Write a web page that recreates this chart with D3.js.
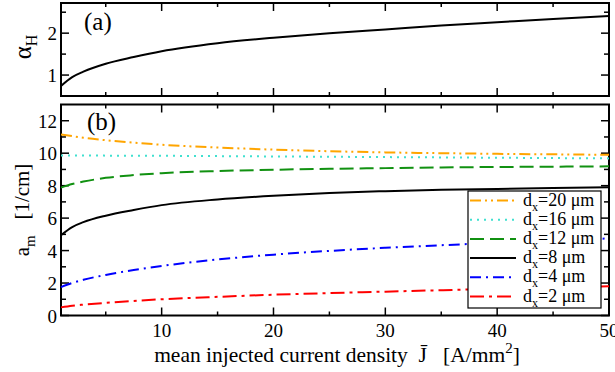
<!DOCTYPE html>
<html>
<head>
<meta charset="utf-8">
<script src="https://cdn.jsdelivr.net/npm/d3@7"></script>
<style>
  body { margin: 0; background: #fff; }
  text { font-family: "Liberation Serif", "DejaVu Serif", serif; fill: #000; white-space: pre; }
</style>
</head>
<body>
<div id="chart"></div>
<script>
// current density samples (A/mm^2)
const J = [1, 2, 3, 5, 7.5, 10, 15, 20, 25, 30, 35, 40, 45, 50];

// panel (a): alpha_H
const alphaH = [0.74, 0.95, 1.08, 1.27, 1.43, 1.57, 1.76, 1.89, 2.0, 2.09, 2.18, 2.26, 2.34, 2.41];

// panel (b): a_m for each d_x
const seriesNames = ["dx20", "dx16", "dx12", "dx8", "dx4", "dx2"];
const seriesLabels = ["20", "16", "12", "8", "4", "2"];
const am20 = [11.15, 11.05, 10.95, 10.8, 10.65, 10.52, 10.35, 10.22, 10.12, 10.05, 10.0, 9.96, 9.93, 9.9];
const am16 = [9.86, 9.86, 9.86, 9.85, 9.85, 9.84, 9.82, 9.8, 9.78, 9.76, 9.74, 9.72, 9.7, 9.68];
const am12 = [7.88, 8.1, 8.25, 8.48, 8.65, 8.77, 8.9, 8.98, 9.04, 9.08, 9.12, 9.15, 9.17, 9.19];
const am8  = [4.95, 5.45, 5.75, 6.15, 6.5, 6.8, 7.15, 7.38, 7.55, 7.66, 7.74, 7.8, 7.86, 7.9];
const am4  = [1.75, 2.0, 2.2, 2.5, 2.8, 3.05, 3.45, 3.75, 3.98, 4.17, 4.33, 4.48, 4.62, 4.75];
const am2  = [0.5, 0.6, 0.67, 0.78, 0.9, 1.0, 1.15, 1.28, 1.38, 1.47, 1.56, 1.64, 1.72, 1.8];
const amValues = [am20, am16, am12, am8, am4, am2];

const xTicks = [10, 20, 30, 40, 50];
const yTicksA = [1, 2];
const yTicksB = [0, 2, 4, 6, 8, 10, 12];

const width = 615, height = 372;
const left = 61, right = 609;

const svg = d3.select("#chart").append("svg")
    .attr("width", width)
    .attr("height", height);

const x = d3.scaleLinear().domain([1, 50]).range([left, right]);
const ya = d3.scaleLinear().domain([0.5, 2.72]).range([96, 3]);
const yb = d3.scaleLinear().domain([0, 13]).range([315.5, 104.5]);

const styles = {
    dx20: { color: "#ffa500", dash: "11,4,2,4,2,4" },
    dx16: { color: "#40e0d0", dash: "2,5" },
    dx12: { color: "#119111", dash: "14,6" },
    dx8:  { color: "#000000", dash: null },
    dx4:  { color: "#0000ff", dash: "11,5,2,5" },
    dx2:  { color: "#ff0000", dash: "14,5,3,5" }
};

// ticks on all four sides, pointing inward
function frame(y, majorY, minorY) {
    const [y1, y0] = y.range();
    const g = svg.append("g");
    const xMinor = d3.range(5, 50, 10);
    xTicks.forEach(t => {
        g.append("line").attr("x1", x(t)).attr("x2", x(t)).attr("y1", y0).attr("y2", y0 + 8);
        g.append("line").attr("x1", x(t)).attr("x2", x(t)).attr("y1", y1).attr("y2", y1 - 8);
    });
    xMinor.forEach(t => {
        g.append("line").attr("x1", x(t)).attr("x2", x(t)).attr("y1", y0).attr("y2", y0 + 4);
        g.append("line").attr("x1", x(t)).attr("x2", x(t)).attr("y1", y1).attr("y2", y1 - 4);
    });
    majorY.forEach(t => {
        g.append("line").attr("x1", left).attr("x2", left + 8).attr("y1", y(t)).attr("y2", y(t));
        g.append("line").attr("x1", right).attr("x2", right - 8).attr("y1", y(t)).attr("y2", y(t));
    });
    minorY.forEach(t => {
        g.append("line").attr("x1", left).attr("x2", left + 5).attr("y1", y(t)).attr("y2", y(t));
        g.append("line").attr("x1", right).attr("x2", right - 5).attr("y1", y(t)).attr("y2", y(t));
    });
    g.selectAll("line").attr("stroke", "#000").attr("stroke-width", 1.5);
    g.append("rect")
        .attr("x", left).attr("y", y0)
        .attr("width", right - left).attr("height", y1 - y0)
        .attr("fill", "none").attr("stroke", "#000").attr("stroke-width", 2);

    svg.append("g").selectAll("text")
        .data(majorY)
        .join("text")
        .attr("x", left - 4)
        .attr("y", d => y(d) + 7)
        .attr("text-anchor", "end")
        .style("font-size", "19px")
        .text(d => d);
}

const line = (ys, yScale) => d3.line()
    .x((d, i) => x(J[i]))
    .y(d => yScale(d))
    .curve(d3.curveMonotoneX)(ys);

// panel (a)
frame(ya, yTicksA, [1.5, 2.5]);
svg.append("path")
    .attr("d", line(alphaH, ya))
    .attr("fill", "none").attr("stroke", "#000").attr("stroke-width", 2);
svg.append("text").attr("x", 84).attr("y", 30).style("font-size", "25px").text("(a)");

// panel (b)
frame(yb, yTicksB, [1, 3, 5, 7, 9, 11]);
seriesNames.forEach((s, k) => {
    svg.append("path")
        .attr("d", line(amValues[k], yb))
        .attr("fill", "none")
        .attr("stroke", styles[s].color)
        .attr("stroke-width", 2)
        .attr("stroke-dasharray", styles[s].dash);
});
svg.append("text").attr("x", 87).attr("y", 130).style("font-size", "25px").text("(b)");

// x tick labels
svg.append("g").selectAll("text")
    .data(xTicks)
    .join("text")
    .attr("x", d => x(d))
    .attr("y", 337)
    .attr("text-anchor", "middle")
    .style("font-size", "19px")
    .text(d => d);

// legend
const lg = svg.append("g").attr("transform", "translate(468,191)");
lg.append("rect").attr("width", 133).attr("height", 117)
    .attr("fill", "#fff").attr("stroke", "#000").attr("stroke-width", 1.2);
seriesNames.forEach((s, k) => {
    const cy = 9.5 + k * 19.2;
    lg.append("line")
        .attr("x1", 2).attr("x2", 48).attr("y1", cy).attr("y2", cy)
        .attr("stroke", styles[s].color).attr("stroke-width", 2)
        .attr("stroke-dasharray", styles[s].dash);
    const t = lg.append("text").attr("x", 55).attr("y", cy + 5).style("font-size", "18px");
    t.append("tspan").text("d");
    t.append("tspan").attr("dy", 5).style("font-size", "12px").text("x");
    t.append("tspan").attr("dy", -5).text("=" + seriesLabels[k] + " \u03bcm");
});

// axis titles
const xt = svg.append("text").attr("x", 337).attr("y", 362)
    .attr("text-anchor", "middle").style("font-size", "21.5px");
xt.append("tspan").text("mean injected current density  J\u0304   [A/mm");
xt.append("tspan").attr("dy", -9).style("font-size", "15px").text("2");
xt.append("tspan").attr("dy", 9).text("]");

const ytA = svg.append("text")
    .attr("transform", "translate(31,47) rotate(-90)")
    .attr("text-anchor", "middle").style("font-size", "25px");
ytA.append("tspan").text("\u03b1");
ytA.append("tspan").attr("dy", 6).style("font-size", "16px").text("H");

const ytB = svg.append("text")
    .attr("transform", "translate(29,210) rotate(-90)")
    .attr("text-anchor", "middle").style("font-size", "21px");
ytB.append("tspan").text("a");
ytB.append("tspan").attr("dy", 6).style("font-size", "15px").text("m");
ytB.append("tspan").attr("dy", -6).text("   [1/cm]");
</script>
</body>
</html>
